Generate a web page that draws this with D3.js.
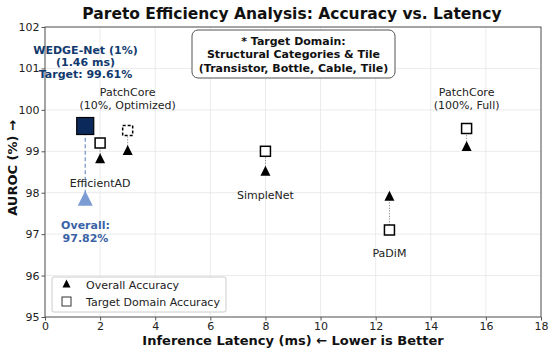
<!DOCTYPE html>
<html><head><meta charset="utf-8">
<script src="https://cdn.jsdelivr.net/npm/d3@7"></script>
<style>body{margin:0;background:#fff}svg{font-family:"DejaVu Sans",sans-serif}</style>
</head><body><svg id="c" width="550" height="351"></svg>
<script>
const methods = ["WEDGE-Net", "EfficientAD", "PatchCore10", "SimpleNet", "PaDiM", "PatchCore100"];
const latency = [1.46, 2.0, 3.0, 8.0, 12.5, 15.3];
const overallAcc = [97.82, 98.8, 99.0, 98.5, 97.9, 99.1];
const targetAcc = [99.61, 99.2, 99.5, 99.0, 97.1, 99.55];
const xTicks = [0, 2, 4, 6, 8, 10, 12, 14, 16, 18];
const yTicks = [95, 96, 97, 98, 99, 100, 101, 102];

const svg = d3.select("#c");
const L = 45, R = 541, T = 27, B = 317;
const x = d3.scaleLinear().domain([0, 18]).range([L, R]);
const y = d3.scaleLinear().domain([95, 102]).range([B, T]);

// grid
svg.append("g").selectAll("line").data(xTicks).join("line")
  .attr("x1", d => x(d)).attr("x2", d => x(d)).attr("y1", T).attr("y2", B)
  .attr("stroke", "#e6e6e6").attr("stroke-width", 0.8);
svg.append("g").selectAll("line").data(yTicks).join("line")
  .attr("y1", d => y(d)).attr("y2", d => y(d)).attr("x1", L).attr("x2", R)
  .attr("stroke", "#e6e6e6").attr("stroke-width", 0.8);

// frame
svg.append("rect").attr("x", L).attr("y", T).attr("width", R - L).attr("height", B - T)
  .attr("fill", "none").attr("stroke", "#555").attr("stroke-width", 1);

// axes
const xa = svg.append("g").attr("transform", `translate(0,${B})`)
  .call(d3.axisBottom(x).tickValues(xTicks).tickSize(3.5).tickPadding(2).tickFormat(d3.format("d")));
const ya = svg.append("g").attr("transform", `translate(${L},0)`)
  .call(d3.axisLeft(y).tickValues(yTicks).tickSize(3.5).tickPadding(2).tickFormat(d3.format("d")));
[xa, ya].forEach(a => {
  a.select(".domain").remove();
  a.selectAll("line").attr("stroke", "#555");
  a.selectAll("text").attr("font-size", 11).attr("fill", "#222").attr("font-family", "DejaVu Sans");
});

// connectors
const others = d3.range(1, methods.length);
svg.append("g").selectAll("line").data(others).join("line")
  .attr("x1", i => x(latency[i])).attr("x2", i => x(latency[i]))
  .attr("y1", i => y(overallAcc[i])).attr("y2", i => y(targetAcc[i]))
  .attr("stroke", "#888").attr("stroke-width", 1).attr("stroke-dasharray", "1.2,1.5");
svg.append("line")
  .attr("x1", x(latency[0])).attr("x2", x(latency[0]))
  .attr("y1", y(overallAcc[0])).attr("y2", y(targetAcc[0]))
  .attr("stroke", "#6f93c4").attr("stroke-width", 1.2).attr("stroke-dasharray", "4,2.5");

const tri = (cx, cy, s) => `M${cx},${cy - s * 0.62}L${cx + s / 2},${cy + s * 0.38}L${cx - s / 2},${cy + s * 0.38}Z`;

// overall triangles
svg.append("g").selectAll("path").data(others).join("path")
  .attr("d", i => tri(x(latency[i]), y(overallAcc[i]), 10)).attr("fill", "#000");
svg.append("path").attr("d", tri(x(latency[0]), y(overallAcc[0]), 15)).attr("fill", "#7b9bd3");

// target squares
const sq = 10;
svg.append("g").selectAll("rect").data(others).join("rect")
  .attr("x", i => x(latency[i]) - sq / 2).attr("y", i => y(targetAcc[i]) - sq / 2)
  .attr("width", sq).attr("height", sq).attr("fill", "#fff").attr("stroke", "#000").attr("stroke-width", 1.5)
  .attr("stroke-dasharray", i => methods[i] === "PatchCore10" ? "3,2" : null);
const big = 17;
svg.append("rect").attr("x", x(latency[0]) - big / 2).attr("y", y(targetAcc[0]) - big / 2)
  .attr("width", big).attr("height", big).attr("fill", "#0b2a5b").attr("stroke", "#000").attr("stroke-width", 1.2);

// labels
function label(lines, cx, cy, opts = {}) {
  const t = svg.append("text").attr("text-anchor", "middle").attr("font-size", opts.size || 11)
    .attr("font-weight", opts.bold ? "bold" : "normal").attr("fill", opts.color || "#222");
  lines.forEach((s, k) => t.append("tspan").attr("x", cx).attr("y", cy + k * (opts.lh || 12.5)).text(s));
}
label(["PatchCore", "(10%, Optimized)"], x(3.0), 96);
label(["PatchCore", "(100%, Full)"], x(15.3), 96);
label(["EfficientAD"], x(2.0), 187);
label(["SimpleNet"], x(8.0), 199);
label(["PaDiM"], x(12.5), 257);
label(["WEDGE-Net (1%)", "(1.46 ms)", "Target: 99.61%"], 85.5, 54, { bold: true, color: "#123a6e", size: 11, lh: 12 });
label(["Overall:", "97.82%"], 85.5, 229, { bold: true, color: "#3a62a6", size: 11, lh: 13 });

// annotation box
svg.append("rect").attr("x", 192).attr("y", 30).attr("width", 203).attr("height", 48).attr("rx", 6)
  .attr("fill", "#fff").attr("stroke", "#555").attr("stroke-width", 1);
label(["* Target Domain:", "Structural Categories & Tile", "(Transistor, Bottle, Cable, Tile)"], 293.5, 45, { bold: true, size: 11, lh: 13.3, color: "#111" });

// legend
svg.append("rect").attr("x", 52).attr("y", 277).attr("width", 174).attr("height", 35).attr("rx", 2)
  .attr("fill", "#fff").attr("stroke", "#ccc").attr("stroke-width", 1);
svg.append("path").attr("d", tri(66.5, 284.5, 8)).attr("fill", "#000");
svg.append("rect").attr("x", 62).attr("y", 297).attr("width", 9).attr("height", 9).attr("fill", "#fff").attr("stroke", "#333").attr("stroke-width", 1);
svg.append("text").attr("x", 86).attr("y", 289).attr("font-size", 11).attr("fill", "#222").text("Overall Accuracy");
svg.append("text").attr("x", 86).attr("y", 306).attr("font-size", 11).attr("fill", "#222").text("Target Domain Accuracy");

// titles
svg.append("text").attr("x", 292).attr("y", 19).attr("text-anchor", "middle").attr("font-size", 15.5)
  .attr("font-weight", "bold").attr("fill", "#111").text("Pareto Efficiency Analysis: Accuracy vs. Latency");
svg.append("text").attr("x", 293).attr("y", 345).attr("text-anchor", "middle").attr("font-size", 13)
  .attr("font-weight", "bold").attr("fill", "#111").text("Inference Latency (ms) ← Lower is Better");
svg.append("text").attr("transform", "translate(17,168) rotate(-90)").attr("text-anchor", "middle").attr("font-size", 13)
  .attr("font-weight", "bold").attr("fill", "#111").text("AUROC (%) →");
</script></body></html>
